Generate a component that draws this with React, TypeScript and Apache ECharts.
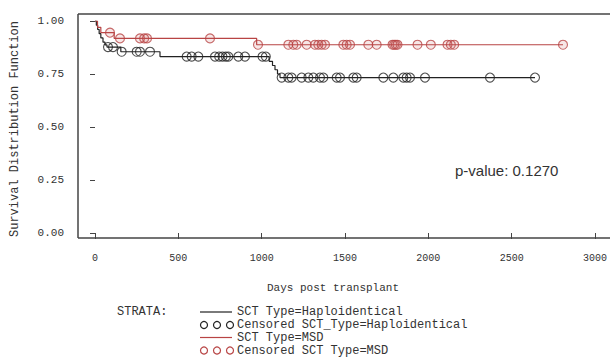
import React, { useEffect, useRef } from "react";
import * as echarts from "echarts";

// Kaplan-Meier step points [day, survival]
const haploSteps: [number, number][] = [
  [0, 1], [8, 0.98], [16, 0.96], [25, 0.94], [35, 0.92], [48, 0.9], [60, 0.887], [72, 0.877],
  [155, 0.855], [390, 0.832], [1045, 0.81], [1065, 0.79], [1080, 0.77], [1095, 0.75], [1110, 0.733], [2640, 0.733],
];
const msdSteps: [number, number][] = [
  [0, 1], [15, 0.97], [35, 0.945], [115, 0.918], [970, 0.888], [2808, 0.888],
];
// censoring times (days)
const haploCensored: number[] = [
  78, 108, 160, 250, 270, 330, 550, 580, 620, 720, 745, 765, 785, 800, 860, 900, 1005, 1025,
  1120, 1160, 1180, 1240, 1280, 1310, 1350, 1370, 1450, 1470, 1550, 1570, 1730, 1790, 1850, 1870, 1890, 1980, 2370, 2640,
];
const msdCensored: number[] = [
  90, 150, 270, 295, 312, 690, 978, 1160, 1190, 1210, 1270, 1320, 1340, 1360, 1380, 1490, 1510, 1530,
  1640, 1690, 1785, 1795, 1805, 1815, 1935, 2015, 2115, 2135, 2155, 2808,
];
const xTicks: number[] = [0, 500, 1000, 1500, 2000, 2500, 3000];
const yTicks: number[] = [0, 0.25, 0.5, 0.75, 1.0];

const survivalAt = (steps: [number, number][], t: number) => {
  let s = steps[0][1];
  for (const [d, v] of steps) if (d <= t) s = v;
  return s;
};

const BLACK = "#222";
const RED = "#b84444";
const MONO = "Liberation Mono";

export default function App() {
  const ref = useRef<HTMLDivElement>(null);
  useEffect(() => {
    if (!ref.current) return;
    const chart = echarts.init(ref.current, null, { renderer: "svg" });
    const legendRows = [
      { y: 312, kind: "line", color: BLACK, text: "SCT Type=Haploidentical" },
      { y: 325, kind: "circ", color: BLACK, text: "Censored SCT_Type=Haploidentical" },
      { y: 337.5, kind: "line", color: RED, text: "SCT Type=MSD" },
      { y: 350.5, kind: "circ", color: RED, text: "Censored SCT Type=MSD" },
    ];
    const monoText = (x: number, y: number, text: string, size: number, align = "left", extra: any = {}) => ({
      type: "text", x, y, ...extra,
      style: { text, fontFamily: MONO, fontSize: size, lineHeight: size, fill: "#333", align, verticalAlign: "middle" },
    });
    const graphics: any[] = [
      { type: "line", shape: { x1: 78, y1: 14, x2: 610, y2: 14 }, style: { stroke: "#444", lineWidth: 1.5 } },
      { type: "line", shape: { x1: 78, y1: 14, x2: 78, y2: 238 }, style: { stroke: "#444", lineWidth: 1.5 } },
      { type: "line", shape: { x1: 78, y1: 238, x2: 610, y2: 238 }, style: { stroke: "#444", lineWidth: 1.5 } },
      monoText(15, 129, "Survival Distribution Function", 12, "center", { rotation: Math.PI / 2 }),
      monoText(333, 288, "Days post transplant", 11, "center"),
      {
        type: "text", x: 455, y: 170,
        style: { text: "p-value: 0.1270", fontFamily: "Liberation Sans", fontSize: 15, fill: "#333", align: "left", verticalAlign: "middle" },
      },
      monoText(117, 312, "STRATA:", 12),
    ];
    legendRows.forEach((r) => {
      if (r.kind === "line") {
        graphics.push({ type: "line", shape: { x1: 200, y1: r.y, x2: 232, y2: r.y }, style: { stroke: r.color, lineWidth: 1.2 } });
      } else {
        [204, 217, 230].forEach((cx) =>
          graphics.push({ type: "circle", shape: { cx, cy: r.y, r: 3.5 }, style: { fill: "none", stroke: r.color, lineWidth: 1.2 } })
        );
      }
      graphics.push(monoText(237, r.y, r.text, 12));
    });

    chart.setOption({
      animation: false,
      backgroundColor: "#fff",
      grid: { left: 95, right: 14, top: 21, bottom: 126, containLabel: false },
      xAxis: {
        type: "value", min: 0, max: 3000, interval: 500, offset: 5,
        axisLine: { show: false },
        axisTick: { show: true, length: 6, lineStyle: { color: "#444" } },
        splitLine: { show: false },
        axisLabel: {
          margin: 15, color: "#333", fontFamily: MONO, fontSize: 10,
          formatter: (v: number) => String(v),
          customValues: xTicks,
        },
      },
      yAxis: {
        type: "value", min: 0, max: 1, interval: 0.25, offset: 17,
        axisLine: { show: false },
        axisTick: { show: true, length: 5, lineStyle: { color: "#444" } },
        splitLine: { show: false },
        axisLabel: {
          margin: 14, color: "#333", fontFamily: MONO, fontSize: 11,
          formatter: (v: number) => v.toFixed(2),
          customValues: yTicks,
        },
      },
      graphic: graphics,
      series: [
        {
          name: "SCT Type=Haploidentical", type: "line", step: "end", data: haploSteps,
          showSymbol: false, lineStyle: { color: BLACK, width: 1.2 }, z: 2,
        },
        {
          name: "SCT Type=MSD", type: "line", step: "end", data: msdSteps,
          showSymbol: false, lineStyle: { color: RED, width: 1.2 }, z: 2,
        },
        {
          name: "Censored SCT_Type=Haploidentical", type: "scatter",
          data: haploCensored.map((t) => [t, survivalAt(haploSteps, t)]),
          symbol: "circle", symbolSize: 9,
          itemStyle: { color: "rgba(0,0,0,0)", borderColor: BLACK, borderWidth: 1.1 }, z: 3,
        },
        {
          name: "Censored SCT Type=MSD", type: "scatter",
          data: msdCensored.map((t) => [t, survivalAt(msdSteps, t)]),
          symbol: "circle", symbolSize: 9,
          itemStyle: { color: "rgba(200,90,90,0.18)", borderColor: RED, borderWidth: 1.1 }, z: 3,
        },
      ],
    });
    return () => chart.dispose();
  }, []);
  return <div ref={ref} style={{ width: 610, height: 359, position: "absolute", left: 0, top: 0 }} />;
}
